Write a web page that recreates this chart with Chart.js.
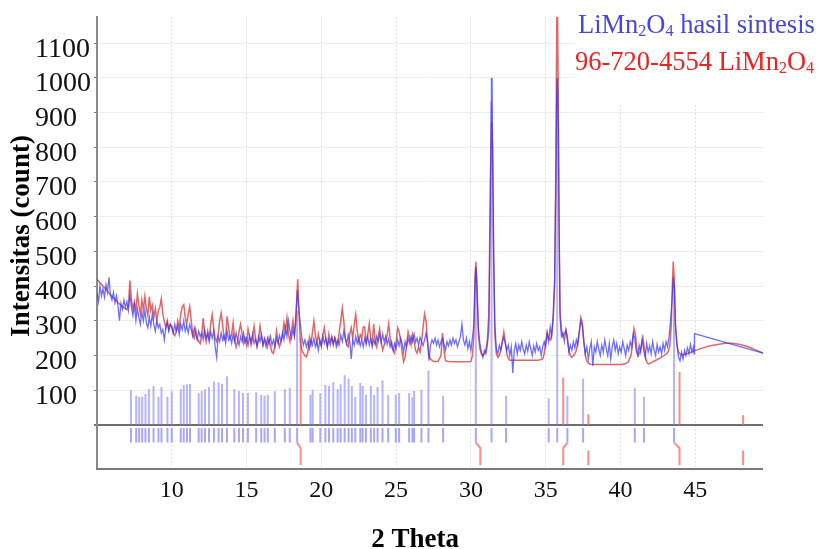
<!DOCTYPE html>
<html><head><meta charset="utf-8">
<script src="https://cdn.jsdelivr.net/npm/chart.js@4.4.1/dist/chart.umd.min.js"></script>
<style>html,body{margin:0;padding:0;background:#fff}canvas{display:block}</style>
</head><body>
<canvas id="c" width="820" height="549"></canvas>
<script>
// ---- tick values ----
const xTicks = [10,15,20,25,30,35,40,45];
const yTicks = [0,100,200,300,400,500,600,700,800,900,1000,1100];

// ---- titles / legend text ----
const xTitle = '2 Theta';
const yTitle = 'Intensitas (count)';
const legendObs = [['LiMn',0],['2',1],['O',0],['4',1],[' hasil sintesis',0]];
const legendRef = [['96-720-4554 LiMn',0],['2',1],['O',0],['4',1]];

// ---- measured pattern (2θ, count) ----
const observed = [[5.0,380],[5.1,355],[5.2,400],[5.3,372],[5.4,392],[5.5,368],[5.6,405],[5.7,383],[5.8,425],[5.9,375],[6.0,360],[6.1,382],[6.2,352],[6.3,372],[6.4,345],[6.5,300],[6.6,350],[6.7,333],[6.8,360],[6.9,338],[7.0,355],[7.1,330],[7.2,375],[7.3,340],[7.4,315],[7.5,345],[7.6,300],[7.7,335],[7.8,310],[7.9,290],[8.0,325],[8.1,300],[8.2,330],[8.3,295],[8.4,280],[8.5,310],[8.6,285],[8.7,320],[8.8,290],[8.9,270],[9.0,300],[9.1,280],[9.2,290],[9.3,265],[9.4,275],[9.5,245],[9.6,280],[9.7,295],[9.8,270],[9.9,290],[10.0,280],[10.1,265],[10.2,290],[10.3,270],[10.4,285],[10.5,260],[10.6,290],[10.7,275],[10.8,300],[10.9,270],[11.0,285],[11.1,265],[11.2,290],[11.3,275],[11.4,255],[11.5,280],[11.6,260],[11.7,245],[11.8,270],[11.9,255],[12.0,265],[12.1,245],[12.2,275],[12.3,250],[12.4,262],[12.5,240],[12.6,268],[12.7,250],[12.8,270],[12.9,225],[13.0,195],[13.1,255],[13.2,240],[13.3,265],[13.4,245],[13.5,258],[13.6,235],[13.7,270],[13.8,245],[13.9,255],[14.0,235],[14.1,260],[14.2,240],[14.3,265],[14.4,245],[14.5,230],[14.6,255],[14.7,240],[14.8,265],[14.9,238],[15.0,250],[15.1,230],[15.2,255],[15.3,240],[15.4,262],[15.5,235],[15.6,248],[15.7,228],[15.8,255],[15.9,240],[16.0,260],[16.1,230],[16.2,245],[16.3,225],[16.4,250],[16.5,235],[16.6,255],[16.7,230],[16.8,245],[16.9,225],[17.0,250],[17.1,235],[17.2,258],[17.3,240],[17.4,265],[17.5,245],[17.6,280],[17.7,255],[17.8,300],[17.9,270],[18.0,250],[18.1,275],[18.2,255],[18.3,320],[18.4,388],[18.5,330],[18.6,290],[18.7,250],[18.8,230],[18.9,245],[19.0,225],[19.1,240],[19.2,220],[19.3,245],[19.4,230],[19.5,250],[19.6,225],[19.7,240],[19.8,215],[19.9,245],[20.0,230],[20.1,255],[20.2,235],[20.3,250],[20.4,225],[20.5,245],[20.6,230],[20.7,255],[20.8,235],[20.9,250],[21.0,225],[21.1,245],[21.2,232],[21.3,258],[21.4,240],[21.5,270],[21.6,250],[21.7,235],[21.8,260],[21.9,240],[22.0,190],[22.1,245],[22.2,230],[22.3,255],[22.4,235],[22.5,250],[22.6,228],[22.7,245],[22.8,225],[22.9,250],[23.0,235],[23.1,255],[23.2,230],[23.3,248],[23.4,225],[23.5,245],[23.6,232],[23.7,255],[23.8,240],[23.9,260],[24.0,238],[24.1,262],[24.2,240],[24.3,255],[24.4,232],[24.5,248],[24.6,225],[24.7,240],[24.8,215],[24.9,235],[25.0,220],[25.1,245],[25.2,228],[25.3,250],[25.4,235],[25.5,210],[25.6,240],[25.7,225],[25.8,250],[25.9,235],[26.0,255],[26.1,240],[26.2,262],[26.3,238],[26.4,250],[26.5,230],[26.6,252],[26.7,240],[26.8,228],[26.9,245],[27.0,265],[27.1,240],[27.2,185],[27.3,230],[27.4,245],[27.5,235],[27.6,250],[27.7,230],[27.8,245],[27.9,225],[28.0,240],[28.1,250],[28.2,232],[28.3,215],[28.4,240],[28.5,228],[28.6,245],[28.7,230],[28.8,250],[28.9,235],[29.0,245],[29.1,225],[29.2,240],[29.3,255],[29.4,290],[29.5,245],[29.6,230],[29.7,250],[29.8,220],[29.9,240],[30.0,215],[30.1,250],[30.2,290],[30.27,400],[30.33,455],[30.4,390],[30.5,280],[30.6,235],[30.7,210],[30.8,195],[30.9,215],[31.0,205],[31.1,230],[31.2,275],[31.3,620],[31.36,930],[31.4,1000],[31.45,820],[31.52,500],[31.6,290],[31.7,220],[31.8,205],[31.9,230],[32.0,215],[32.1,240],[32.2,252],[32.3,235],[32.4,215],[32.5,230],[32.6,200],[32.7,225],[32.8,150],[32.9,215],[33.0,235],[33.1,205],[33.2,230],[33.3,215],[33.4,240],[33.5,218],[33.6,205],[33.7,230],[33.8,212],[33.9,240],[34.0,220],[34.1,200],[34.2,228],[34.3,210],[34.4,235],[34.5,215],[34.6,225],[34.7,200],[34.8,225],[34.9,240],[35.0,225],[35.1,262],[35.2,240],[35.3,282],[35.4,255],[35.5,320],[35.6,424],[35.68,700],[35.74,960],[35.78,1000],[35.84,850],[35.9,560],[35.96,310],[36.05,255],[36.15,265],[36.25,240],[36.35,275],[36.45,255],[36.55,210],[36.65,230],[36.75,215],[36.85,240],[36.95,222],[37.05,245],[37.15,230],[37.25,270],[37.35,300],[37.45,285],[37.55,240],[37.65,205],[37.75,225],[37.85,190],[37.95,220],[38.05,240],[38.15,170],[38.25,225],[38.35,210],[38.45,240],[38.55,218],[38.65,200],[38.75,230],[38.85,210],[38.95,245],[39.05,220],[39.15,200],[39.25,235],[39.35,190],[39.45,225],[39.55,245],[39.65,215],[39.75,235],[39.85,205],[39.95,225],[40.05,210],[40.15,240],[40.25,220],[40.35,200],[40.45,230],[40.55,215],[40.65,240],[40.75,225],[40.85,262],[40.95,252],[41.05,215],[41.15,200],[41.25,230],[41.35,210],[41.45,248],[41.55,215],[41.65,195],[41.75,235],[41.85,210],[41.95,228],[42.05,205],[42.15,240],[42.25,215],[42.35,200],[42.45,232],[42.55,210],[42.65,225],[42.75,205],[42.85,235],[42.95,215],[43.05,240],[43.15,225],[43.25,255],[43.35,300],[43.45,360],[43.53,425],[43.6,400],[43.68,280],[43.78,230],[43.88,195],[43.98,185],[44.08,210],[44.18,190],[44.28,215],[44.38,200],[44.48,222],[44.58,205],[44.68,232],[44.78,210],[44.88,225],[44.92,205],[44.95,263],[49.53,207]];

// ---- calculated pattern 96-720-4554 (2θ, count) ----
const calculated = [[5.0,420],[5.2,410],[5.4,400],[5.6,390],[5.8,380],[6.0,370],[6.2,362],[6.4,352],[6.6,345],[6.8,338],[7.0,332],[7.1,345],[7.2,416],[7.3,360],[7.4,335],[7.5,355],[7.6,330],[7.7,378],[7.8,345],[7.9,320],[8.0,360],[8.1,330],[8.2,370],[8.3,335],[8.4,315],[8.5,369],[8.6,330],[8.7,345],[8.8,310],[8.9,335],[9.0,300],[9.1,330],[9.2,340],[9.3,364],[9.4,320],[9.5,299],[9.6,280],[9.7,300],[9.8,275],[9.9,290],[10.0,285],[10.1,265],[10.2,257],[10.3,270],[10.4,300],[10.5,280],[10.6,320],[10.7,340],[10.8,346],[10.9,310],[11.0,290],[11.1,320],[11.2,341],[11.3,300],[11.4,260],[11.5,250],[11.6,275],[11.7,250],[11.8,240],[11.9,234],[12.0,260],[12.1,308],[12.2,260],[12.3,240],[12.4,270],[12.5,250],[12.6,290],[12.7,318],[12.8,280],[12.9,250],[13.0,240],[13.1,260],[13.2,300],[13.3,322],[13.4,290],[13.5,245],[13.6,250],[13.7,313],[13.8,280],[13.9,250],[14.0,260],[14.1,294],[14.2,250],[14.3,224],[14.4,240],[14.5,270],[14.6,290],[14.7,265],[14.8,235],[14.9,250],[15.0,230],[15.1,276],[15.2,255],[15.3,230],[15.4,250],[15.5,285],[15.6,250],[15.7,225],[15.8,245],[15.9,285],[16.0,255],[16.1,230],[16.2,250],[16.3,240],[16.4,225],[16.5,250],[16.6,225],[16.7,210],[16.8,206],[16.9,230],[17.0,271],[17.1,245],[17.2,225],[17.3,240],[17.4,255],[17.5,294],[17.6,270],[17.7,308],[17.8,260],[17.9,240],[18.0,270],[18.1,300],[18.2,260],[18.3,299],[18.36,370],[18.42,420],[18.5,330],[18.6,240],[18.7,215],[18.8,206],[18.9,200],[19.0,196],[19.1,210],[19.2,252],[19.3,230],[19.4,265],[19.5,299],[19.6,260],[19.7,235],[19.8,262],[19.9,240],[20.0,225],[20.1,260],[20.2,280],[20.3,245],[20.4,225],[20.5,262],[20.6,240],[20.7,250],[20.8,230],[20.9,252],[21.0,240],[21.1,230],[21.2,270],[21.3,300],[21.4,336],[21.5,300],[21.6,250],[21.7,230],[21.8,225],[21.9,260],[22.0,280],[22.1,250],[22.2,290],[22.3,318],[22.4,270],[22.5,240],[22.6,260],[22.7,250],[22.8,282],[22.9,282],[23.0,235],[23.1,260],[23.2,291],[23.3,250],[23.4,235],[23.5,291],[23.6,240],[23.7,225],[23.8,255],[23.9,277],[24.0,240],[24.1,216],[24.2,230],[24.3,240],[24.4,260],[24.5,291],[24.6,250],[24.7,225],[24.8,216],[24.9,207],[25.0,240],[25.1,280],[25.2,268],[25.3,245],[25.4,210],[25.5,182],[25.6,195],[25.7,230],[25.8,268],[25.9,250],[26.0,230],[26.1,260],[26.2,240],[26.3,215],[26.4,207],[26.5,225],[26.6,210],[26.7,240],[26.8,280],[26.9,320],[27.0,300],[27.1,240],[27.2,200],[27.3,190],[27.5,183],[27.8,183],[28.0,200],[28.1,265],[28.2,215],[28.3,185],[28.5,183],[29.0,182],[29.5,182],[30.0,183],[30.1,200],[30.2,260],[30.27,420],[30.33,470],[30.4,420],[30.5,260],[30.6,220],[30.7,205],[30.8,200],[30.9,205],[31.0,215],[31.1,245],[31.2,320],[31.3,700],[31.38,873],[31.45,800],[31.52,480],[31.6,260],[31.7,205],[31.8,195],[31.9,200],[32.0,215],[32.1,240],[32.2,268],[32.3,240],[32.4,205],[32.5,192],[32.6,186],[33.0,186],[33.5,186],[34.0,186],[34.5,186],[34.8,190],[34.9,205],[35.0,240],[35.1,268],[35.2,250],[35.3,245],[35.4,260],[35.5,300],[35.6,400],[35.68,750],[35.74,1150],[35.78,1250],[35.84,950],[35.9,550],[35.96,330],[36.05,275],[36.15,255],[36.25,262],[36.35,272],[36.45,245],[36.55,215],[36.65,200],[36.75,195],[36.85,200],[36.95,205],[37.05,215],[37.15,240],[37.25,270],[37.35,310],[37.45,295],[37.55,240],[37.65,200],[37.75,185],[37.85,178],[38.0,175],[38.5,174],[39.0,174],[39.5,174],[40.0,174],[40.3,176],[40.5,180],[40.7,200],[40.8,230],[40.9,277],[41.0,260],[41.1,215],[41.2,200],[41.3,210],[41.4,230],[41.5,251],[41.6,220],[41.7,190],[41.8,178],[41.9,176],[42.0,178],[42.3,185],[42.6,192],[42.9,200],[43.1,206],[43.2,212],[43.3,228],[43.4,290],[43.47,400],[43.53,471],[43.6,420],[43.68,290],[43.78,230],[43.88,210],[44.0,204],[44.2,202],[44.5,206],[45.0,214],[45.5,222],[46.0,228],[46.5,232],[47.0,235],[47.5,235],[48.0,232],[48.5,226],[49.0,217],[49.53,207]];

// ---- reference sticks of the matched (blue) phase ----
const blueStickPos = [7.27,7.62,7.82,8.02,8.24,8.47,8.78,9.11,9.31,9.71,10.0,10.6,10.8,11.02,11.22,11.8,12.0,12.22,12.49,12.82,13.13,13.36,13.69,14.18,14.49,14.76,15.09,15.64,15.98,16.2,16.42,16.89,17.56,17.89,18.38,19.27,19.42,19.93,20.27,20.51,20.8,21.09,21.29,21.56,21.82,22.04,22.27,22.6,22.76,22.98,23.31,23.53,23.76,24.09,24.47,24.98,25.2,25.87,26.09,26.2,26.69,27.16,28.14,30.33,31.38,32.35,35.2,35.77,36.45,37.5,40.96,41.57,43.58];
const blueStickInt = [100,84,81,81,89,103,112,81,109,81,97,103,115,117,118,91,98,103,109,125,123,119,140,103,98,92,92,94,87,84,87,97,103,107,330,87,101,91,115,112,123,103,117,143,133,112,81,121,112,87,112,86,109,128,86,87,92,92,80,98,101,157,84,450,1000,84,77,1000,84,133,107,81,410];

// ---- reference sticks of 96-720-4554 LiMn2O4 (red) ----
const redStickPos  = [18.62,30.63,36.17,37.85,43.95,48.2];
const redStickInt  = [250,0,136,31,153,28];
const redLinkFrom  = [18.38,30.33,36.45,null,43.58,null];

// ---- build point lists for the library ----
const pts = a => a.map(p => ({x:p[0], y:p[1]}));
const blueUp = [], blueDown = [];
blueStickPos.forEach((p,i) => {
  if (i >= blueStickInt.length) return;
  blueUp.push({x:p,y:0},{x:p,y:blueStickInt[i]},{x:p,y:null});
  blueDown.push({x:p,y:-9},{x:p,y:-51},{x:p,y:null});
});
const redMarks = [];
redStickPos.forEach((p,i) => {
  if (redStickInt[i] > 0) redMarks.push({x:p,y:0},{x:p,y:redStickInt[i]},{x:p,y:null});
  const f = redLinkFrom[i];
  if (f !== null) redMarks.push({x:f,y:-51},{x:p,y:-67},{x:p,y:-116},{x:p,y:null});
  else redMarks.push({x:p,y:-74},{x:p,y:-116},{x:p,y:null});
});

const FONT = 'Liberation Serif';
function drawRich(c, x, y, parts, color, size) {
  c.fillStyle = color; c.textAlign = 'left'; c.textBaseline = 'alphabetic';
  let cx = x;
  for (const [t, sub] of parts) {
    c.font = (sub ? Math.round(size*0.6) : size) + 'px "' + FONT + '"';
    c.fillText(t, cx, sub ? y + 3 : y);
    cx += c.measureText(t).width;
  }
}

const deco = {
  id: 'deco',
  beforeDatasetsDraw(ch) {
    const c = ch.ctx; c.save(); c.fillStyle = '#fff'; c.fillRect(575, 0, 245, 103); c.restore();
  },
  afterDatasetsDraw(ch) {
    const c = ch.ctx, a = ch.chartArea; c.save();
    c.strokeStyle = '#7a7a7a'; c.lineWidth = 2;
    c.beginPath(); c.moveTo(a.left - 1, a.bottom); c.lineTo(a.right, a.bottom); c.stroke();
    c.restore();
  },
  afterDraw(ch) {
    const c = ch.ctx; c.save();
    c.fillStyle = '#000';
    c.font = 'bold 27px "' + FONT + '"';
    c.textAlign = 'center'; c.textBaseline = 'alphabetic';
    c.fillText(xTitle, 415, 547);
    c.translate(29, 236); c.rotate(-Math.PI/2);
    c.fillText(yTitle, 0, 0);
    c.restore();
    c.save();
    drawRich(c, 578, 33, legendObs, 'rgb(70,70,225)', 26.5);
    drawRich(c, 575, 70, legendRef, 'rgb(235,35,35)', 26.5);
    c.restore();
  }
};

new Chart(document.getElementById('c'), {
  type: 'line',
  data: { datasets: [
    { label:'blueDown', data: blueDown, borderColor:'rgba(120,120,255,0.65)', borderWidth:2, pointRadius:0, order:6, spanGaps:false },
    { label:'blueUp', data: blueUp, borderColor:'rgba(120,120,255,0.55)', borderWidth:2, pointRadius:0, order:5, spanGaps:false },
    { label:'redMarks', data: redMarks, borderColor:'rgba(255,100,100,0.75)', borderWidth:2, pointRadius:0, order:4, spanGaps:false },
    { label:'96-720-4554 LiMn2O4', data: pts(calculated), borderColor:'rgba(215,60,60,0.78)', borderWidth:1.5, pointRadius:0, order:2, tension:0 },
    { label:'LiMn2O4 hasil sintesis', data: pts(observed), borderColor:'rgba(50,50,255,0.7)', borderWidth:1.3, pointRadius:0, order:1, tension:0 }
  ]},
  options: {
    responsive:false, animation:false, events:[],
    layout:{ padding:{ left:35, top:8, right:57, bottom:0 } },
    plugins:{ legend:{display:false}, tooltip:{enabled:false} },
    scales:{
      x:{ type:'linear', min:5, max:49.53,
        afterBuildTicks: s => { s.ticks = xTicks.map(v => ({value:v})); },
        afterFit: s => { s.height = 80; },
        grid:{ color:'rgba(0,0,0,0.12)', lineWidth:1, drawTicks:false },
        border:{ display:false, dash:[2,2] },
        ticks:{ padding:7, color:'#111', font:{family:FONT, size:24}, maxRotation:0, autoSkip:false, callback: v => String(v) } },
      y:{ type:'linear', min:-127, max:1176,
        afterBuildTicks: s => { s.ticks = yTicks.map(v => ({value:v})); },
        afterFit: s => { s.width = 62; },
        grid:{ color: c => (c.tick && c.tick.value === 0) ? '#6e6e6e' : 'rgba(0,0,0,0.07)',
               lineWidth: c => (c.tick && c.tick.value === 0) ? 2 : 1,
               drawTicks:true, tickLength:3, tickColor:'#777' },
        border:{ display:true, color:'#8a8a8a', width:2 },
        ticks:{ crossAlign:'far', labelOffset:6, padding:0, color:'#111', font:{family:FONT, size:28},
                autoSkip:false, callback: v => v === 0 ? '' : String(v) } }
    }
  },
  plugins:[deco]
});
</script>
</body></html>
